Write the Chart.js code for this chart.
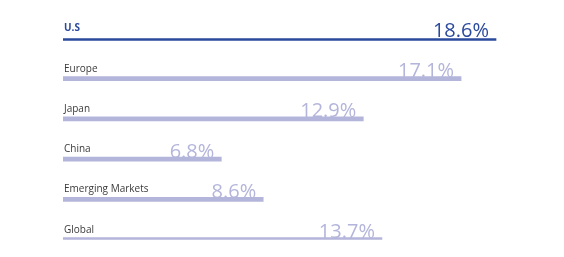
<!DOCTYPE html>
<html>
<head>
<meta charset="utf-8">
<script src="https://cdn.jsdelivr.net/npm/chart.js@4.4.0/dist/chart.umd.min.js"></script>
<style>
  html, body { margin: 0; padding: 0; background: #fff; }
  #wrap { width: 564px; height: 257px; }
</style>
</head>
<body>
<div id="wrap"><canvas id="myChart" width="564" height="257"></canvas></div>
<script>
const regions = ["U.S", "Europe", "Japan", "China", "Emerging Markets", "Global"];
const returns = [18.6, 17.1, 12.9, 6.8, 8.6, 13.7];
const valueLabels = ["18.6%", "17.1%", "12.9%", "6.8%", "8.6%", "13.7%"];

const DARK = "#2b4a9c";
const LIGHT = "#b4b5db";
const barColors = regions.map((r, i) => i === 0 ? DARK : LIGHT);

// draws the region names above and the big values at the bar ends
const labelPlugin = {
  id: "barLabels",
  afterDatasetsDraw(chart) {
    const ctx = chart.ctx;
    const meta = chart.getDatasetMeta(0);
    const left = chart.scales.x.getPixelForValue(0);
    ctx.save();
    meta.data.forEach((bar, i) => {
      const top = bar.y - 2;
      ctx.textAlign = "left";
      ctx.textBaseline = "alphabetic";
      ctx.fillStyle = i === 0 ? DARK : "#3a3a3a";
      ctx.font = (i === 0 ? "bold " : "") + "10px 'Open Sans'";
      ctx.fillText(regions[i], left + 1, top - 5);

      ctx.textAlign = "right";
      ctx.fillStyle = i === 0 ? DARK : LIGHT;
      ctx.font = "20px 'Open Sans'";
      ctx.fillText(valueLabels[i], bar.x - 7, top + 0.5);
    });
    ctx.restore();
  }
};

new Chart(document.getElementById("myChart"), {
  type: "bar",
  data: {
    labels: regions,
    datasets: [{
      data: returns,
      backgroundColor: barColors,
      barThickness: 4,
      borderWidth: 0
    }]
  },
  options: {
    indexAxis: "y",
    responsive: false,
    animation: false,
    layout: { padding: { left: 63, right: 35.4, top: 38.3, bottom: 17.3 } },
    plugins: { legend: { display: false }, tooltip: { enabled: false } },
    scales: {
      x: { display: false, min: 0, max: 20 },
      y: { display: false, offset: false }
    }
  },
  plugins: [labelPlugin]
});
</script>
</body>
</html>
